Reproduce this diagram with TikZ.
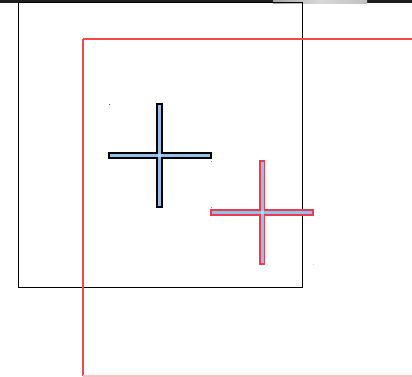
\documentclass[tikz,border=0pt]{standalone}
\begin{document}
\begin{tikzpicture}[x=1pt,y=-1pt,
  bluebar/.style={fill=crossblue, draw=black, line width=1.3pt},
  redbar/.style={fill=crossblue, draw=barred, line width=1.3pt},
  inner/.style={fill=crossblue, draw=none}]
\definecolor{crossblue}{HTML}{94C0EC}
\definecolor{topbar}{HTML}{1E1E1E}
\definecolor{sqred}{HTML}{F04A4A}
\definecolor{sqpink}{HTML}{F8C0C0}
\definecolor{barred}{HTML}{E83C50}
\useasboundingbox (0,0) rectangle (412,377);
\fill[white] (0,0) rectangle (412,377);
% top bar
\fill[topbar] (0,0) rectangle (412,3.5);
\shade[left color=gray!70, right color=gray!50, middle color=gray!30] (273,0) rectangle (367,3.5);
% black square
\draw[black, line width=1pt] (18,3) rectangle (302,287);
% red square
\draw[sqred, line width=1.3pt] (83,39) -- (413,39);
\draw[sqred, line width=1.3pt] (83,39) -- (83,376);
\draw[sqpink, line width=1.3pt] (83,376) -- (413,376);
% cross 1
\draw[bluebar] (157,104) rectangle (162,207);
\draw[bluebar] (109,153) rectangle (211,158);
\fill[inner] (157.7,104.7) rectangle (161.3,206.3);
\fill[inner] (109.7,153.7) rectangle (210.3,157.3);
\fill[crossblue!60!white] (157.7,153.7) rectangle (161.3,157.3);
% corner dots cross 1
\fill[black!70] (108.5,104.5) rectangle (109.5,105.5);
\fill[sqred] (210.5,161) rectangle (211.5,162);
% cross 2
\draw[redbar] (260,161) rectangle (264.5,264);
\draw[redbar] (211,210) rectangle (313,215);
\fill[inner] (260.7,161.7) rectangle (263.8,263.3);
\fill[inner] (211.7,210.7) rectangle (312.3,214.3);
\fill[crossblue!60!white] (260.7,210.7) rectangle (263.8,214.3);
% corner dots cross 2
\fill[black!50] (210.5,207) rectangle (211.5,208);
\fill[sqpink] (313,263.5) rectangle (314,264.5);
\end{tikzpicture}
\end{document}
